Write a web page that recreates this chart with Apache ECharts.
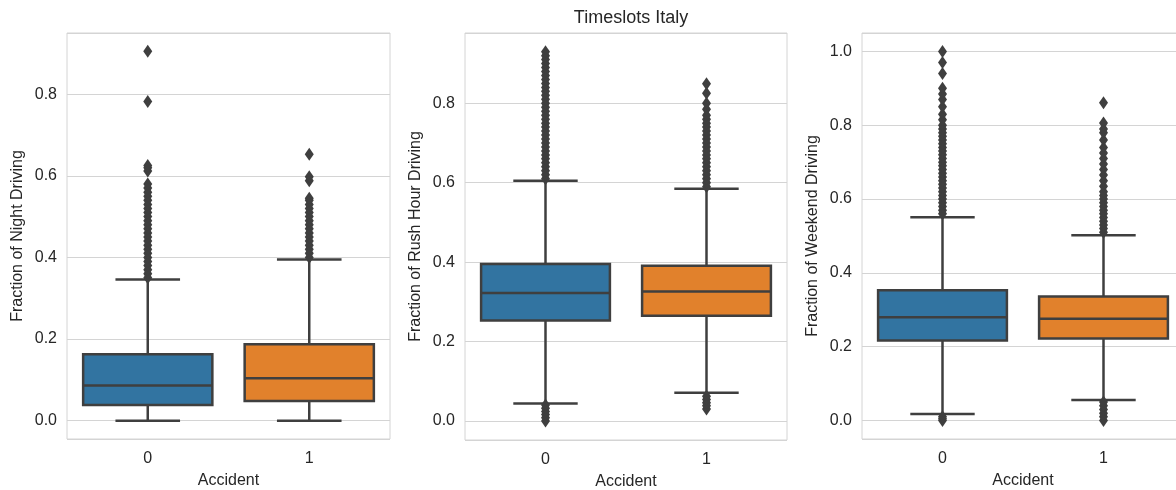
<!DOCTYPE html>
<html>
<head>
<meta charset="utf-8">
<script src="https://cdn.jsdelivr.net/npm/echarts@6/dist/echarts.min.js"></script>
<style>
  html, body { margin: 0; padding: 0; background: #fff; }
  #chart { width: 1176px; height: 490px; }
</style>
</head>
<body>
<div id="chart"></div>
<script>
var categories = ["0", "1"];

// box stats: [whisker low, Q1, median, Q3, whisker high]
var nightBox0 = [0.0, 0.0385, 0.086, 0.163, 0.346];
var nightBox1 = [0.0, 0.048, 0.104, 0.187, 0.395];
var rushBox0 = [0.044, 0.253, 0.322, 0.395, 0.605];
var rushBox1 = [0.071, 0.265, 0.326, 0.391, 0.585];
var weekendBox0 = [0.018, 0.217, 0.280, 0.353, 0.551];
var weekendBox1 = [0.056, 0.222, 0.276, 0.336, 0.502];

// outliers
var nightOut0 = [0.35, 0.36, 0.37, 0.38, 0.39, 0.40, 0.41, 0.42, 0.43, 0.44, 0.45, 0.46, 0.47,
  0.48, 0.49, 0.50, 0.51, 0.52, 0.53, 0.54, 0.55, 0.56, 0.57, 0.58, 0.612, 0.62, 0.625, 0.782, 0.905];
var nightOut1 = [0.40, 0.41, 0.42, 0.43, 0.44, 0.45, 0.46, 0.47, 0.48, 0.49, 0.50, 0.51, 0.52,
  0.53, 0.54, 0.545, 0.588, 0.598, 0.653];
var rushOut0 = [0.0, 0.008, 0.016, 0.024, 0.032, 0.04,
  0.61, 0.62, 0.63, 0.64, 0.65, 0.66, 0.67, 0.68, 0.69, 0.70, 0.71, 0.72, 0.73, 0.74, 0.75,
  0.76, 0.77, 0.78, 0.79, 0.80, 0.81, 0.82, 0.83, 0.84, 0.85, 0.86, 0.87, 0.88, 0.89, 0.90,
  0.91, 0.92, 0.93];
var rushOut1 = [0.03, 0.038, 0.046, 0.054, 0.062,
  0.59, 0.60, 0.61, 0.62, 0.63, 0.64, 0.65, 0.66, 0.67, 0.68, 0.69, 0.70, 0.71, 0.72, 0.73,
  0.74, 0.75, 0.76, 0.77, 0.785, 0.80, 0.825, 0.849];
var weekendOut0 = [0.0, 0.005, 0.01,
  0.56, 0.57, 0.58, 0.59, 0.60, 0.61, 0.62, 0.63, 0.64, 0.65, 0.66, 0.67, 0.68, 0.69, 0.70,
  0.71, 0.72, 0.73, 0.74, 0.75, 0.76, 0.77, 0.78, 0.79, 0.80, 0.815, 0.83, 0.85, 0.87, 0.885,
  0.90, 0.94, 0.97, 1.0];
var weekendOut1 = [0.0, 0.01, 0.02, 0.03, 0.04, 0.05,
  0.51, 0.52, 0.53, 0.54, 0.55, 0.56, 0.57, 0.58, 0.59, 0.60, 0.61, 0.62, 0.635, 0.65, 0.665,
  0.68, 0.695, 0.71, 0.725, 0.74, 0.76, 0.78, 0.79, 0.806, 0.861];

var yNames = ["Fraction of Night Driving", "Fraction of Rush Hour Driving", "Fraction of Weekend Driving"];
var yRanges = [[-0.045, 0.95], [-0.048, 0.977], [-0.05, 1.05]];

var boxColors = ["#3274a1", "#e1812c"];
var lineColor = "#3f3f3f";
var textColor = "#262626";
var gridColor = "#d4d4d4";
var font = "Liberation Sans, Arial, sans-serif";

var chart = echarts.init(document.getElementById("chart"));

var gridPos = [
  { left: 67, top: 33, width: 323, height: 406 },
  { left: 465, top: 33, width: 322, height: 407 },
  { left: 862, top: 33, width: 322, height: 406 }
];

function renderBox(params, api) {
  var cat = api.value(0);
  var low = api.coord([cat, api.value(1)]);
  var q1 = api.coord([cat, api.value(2)]);
  var med = api.coord([cat, api.value(3)]);
  var q3 = api.coord([cat, api.value(4)]);
  var high = api.coord([cat, api.value(5)]);
  var w = api.size([1, 0])[0] * 0.8;
  var x = low[0];
  var st = { stroke: lineColor, lineWidth: 2.5 };
  return {
    type: "group",
    children: [
      { type: "line", shape: { x1: x, y1: low[1], x2: x, y2: q1[1] }, style: st },
      { type: "line", shape: { x1: x, y1: q3[1], x2: x, y2: high[1] }, style: st },
      { type: "line", shape: { x1: x - w / 4, y1: low[1], x2: x + w / 4, y2: low[1] }, style: st },
      { type: "line", shape: { x1: x - w / 4, y1: high[1], x2: x + w / 4, y2: high[1] }, style: st },
      {
        type: "rect",
        shape: { x: x - w / 2, y: q3[1], width: w, height: q1[1] - q3[1] },
        style: { fill: boxColors[cat], stroke: lineColor, lineWidth: 2.5 }
      },
      { type: "line", shape: { x1: x - w / 2, y1: med[1], x2: x + w / 2, y2: med[1] }, style: st }
    ]
  };
}

var boxSets = [[nightBox0, nightBox1], [rushBox0, rushBox1], [weekendBox0, weekendBox1]];
var outSets = [[nightOut0, nightOut1], [rushOut0, rushOut1], [weekendOut0, weekendOut1]];

var grids = [], xAxes = [], yAxes = [], series = [];
for (var i = 0; i < 3; i++) {
  grids.push(Object.assign({
    show: true, borderColor: gridColor, borderWidth: 1,
    containLabel: false, outerBoundsMode: "none"
  }, gridPos[i]));
  xAxes.push({
    type: "category",
    gridIndex: i,
    data: categories,
    name: "Accident",
    nameLocation: "middle",
    nameGap: 34,
    nameTextStyle: { color: textColor, fontSize: 16, fontFamily: font },
    axisLine: { show: false },
    axisTick: { show: false },
    axisLabel: { color: textColor, fontSize: 16, fontFamily: font, margin: 12 }
  });
  yAxes.push({
    type: "value",
    gridIndex: i,
    min: yRanges[i][0],
    max: yRanges[i][1],
    minInterval: 0.2,
    maxInterval: 0.2,
    name: yNames[i],
    nameLocation: "middle",
    nameGap: 41,
    nameTextStyle: { color: textColor, fontSize: 16, fontFamily: font },
    axisLine: { show: false },
    axisTick: { show: false },
    splitLine: { show: true, lineStyle: { color: gridColor, width: 1 } },
    axisLabel: {
      color: textColor, fontSize: 16, fontFamily: font, margin: 10,
      showMinLabel: false, showMaxLabel: false,
      formatter: function (v) { return v.toFixed(1); }
    }
  });
  var boxData = boxSets[i].map(function (b, c) { return [c].concat(b); });
  series.push({
    type: "custom",
    xAxisIndex: i,
    yAxisIndex: i,
    renderItem: renderBox,
    encode: { x: 0, y: [1, 2, 3, 4, 5] },
    data: boxData,
    z: 2
  });
  var pts = [];
  outSets[i].forEach(function (arr, c) {
    arr.forEach(function (v) { pts.push([c, v]); });
  });
  series.push({
    type: "scatter",
    xAxisIndex: i,
    yAxisIndex: i,
    symbol: "diamond",
    symbolSize: [9, 13],
    itemStyle: { color: lineColor, opacity: 1 },
    data: pts,
    z: 3
  });
}

chart.setOption({
  animation: false,
  title: {
    text: "Timeslots Italy",
    left: 626,
    top: 4,
    textAlign: "center",
    textStyle: { color: textColor, fontSize: 18, fontWeight: "normal", fontFamily: font }
  },
  grid: grids,
  xAxis: xAxes,
  yAxis: yAxes,
  series: series
});
</script>
</body>
</html>
